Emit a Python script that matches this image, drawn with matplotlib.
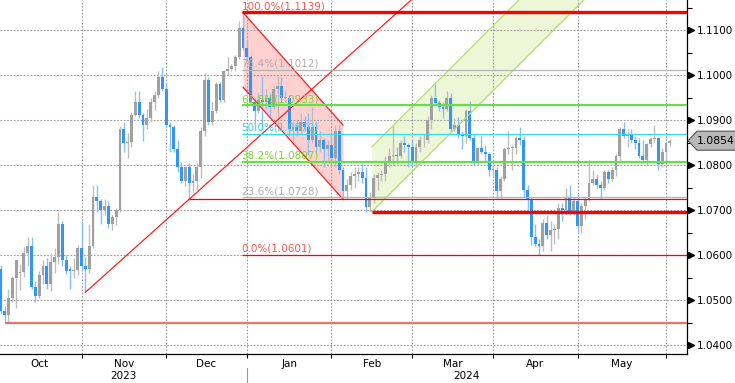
import matplotlib
matplotlib.use('Agg')
import matplotlib.pyplot as plt
import matplotlib.transforms as mtransforms
from matplotlib.patches import Polygon
from matplotlib.ticker import MultipleLocator, FixedLocator, NullFormatter
import numpy as np
import pandas as pd

# EURUSD daily candles (open, high, low, close), one list per month
oct_23 = [(1.0570, 1.0577, 1.0470, 1.0475), (1.0475, 1.0487, 1.0448, 1.0467),
          (1.0467, 1.0525, 1.0448, 1.0505), (1.0505, 1.0553, 1.0496, 1.0549),
          (1.0549, 1.0589, 1.0483, 1.0588), (1.0560, 1.0581, 1.0523, 1.0563),
          (1.0563, 1.0617, 1.0552, 1.0604), (1.0604, 1.0639, 1.0576, 1.0620),
          (1.0620, 1.0640, 1.0525, 1.0530), (1.0530, 1.0543, 1.0495, 1.0510),
          (1.0510, 1.0565, 1.0505, 1.0555), (1.0555, 1.0590, 1.0535, 1.0575),
          (1.0575, 1.0594, 1.0525, 1.0535), (1.0535, 1.0605, 1.0520, 1.0585),
          (1.0585, 1.0615, 1.0560, 1.0595), (1.0595, 1.0695, 1.0580, 1.0670),
          (1.0670, 1.0675, 1.0575, 1.0590), (1.0590, 1.0601, 1.0557, 1.0565),
          (1.0568, 1.0575, 1.0524, 1.0564), (1.0564, 1.0594, 1.0550, 1.0566),
          (1.0566, 1.0622, 1.0555, 1.0615), (1.0615, 1.0675, 1.0565, 1.0575)]
nov_23 = [(1.0575, 1.0596, 1.0517, 1.0568), (1.0568, 1.0670, 1.0560, 1.0620),
          (1.0620, 1.0756, 1.0615, 1.0730), (1.0730, 1.0755, 1.0695, 1.0720),
          (1.0720, 1.0725, 1.0668, 1.0700), (1.0700, 1.0725, 1.0690, 1.0710),
          (1.0710, 1.0720, 1.0660, 1.0668), (1.0668, 1.0690, 1.0656, 1.0685),
          (1.0685, 1.0705, 1.0667, 1.0700), (1.0700, 1.0887, 1.0695, 1.0880),
          (1.0880, 1.0895, 1.0828, 1.0850), (1.0850, 1.0872, 1.0815, 1.0852),
          (1.0852, 1.0918, 1.0840, 1.0912), (1.0912, 1.0965, 1.0910, 1.0940),
          (1.0940, 1.0965, 1.0905, 1.0912), (1.0912, 1.0915, 1.0853, 1.0888),
          (1.0888, 1.0925, 1.0880, 1.0905), (1.0905, 1.0950, 1.0895, 1.0940),
          (1.0940, 1.0965, 1.0922, 1.0955), (1.0955, 1.1010, 1.0950, 1.0995),
          (1.0995, 1.1017, 1.0965, 1.0970), (1.0970, 1.0985, 1.0885, 1.0888)]
dec_23 = [(1.0888, 1.0895, 1.0828, 1.0884), (1.0884, 1.0890, 1.0830, 1.0835),
          (1.0835, 1.0855, 1.0785, 1.0795), (1.0795, 1.0806, 1.0760, 1.0765),
          (1.0765, 1.0795, 1.0753, 1.0795), (1.0795, 1.0805, 1.0723, 1.0760),
          (1.0760, 1.0780, 1.0740, 1.0765), (1.0765, 1.0805, 1.0745, 1.0795),
          (1.0795, 1.0885, 1.0772, 1.0875), (1.0875, 1.1005, 1.0865, 1.0990),
          (1.0990, 1.0995, 1.0890, 1.0895), (1.0895, 1.0940, 1.0888, 1.0920),
          (1.0920, 1.0985, 1.0915, 1.0980), (1.0980, 1.0985, 1.0940, 1.0945),
          (1.0945, 1.1012, 1.0940, 1.1010), (1.1010, 1.1040, 1.1000, 1.1013),
          (1.1013, 1.1025, 1.1010, 1.1020), (1.1020, 1.1045, 1.1010, 1.1040),
          (1.1040, 1.1120, 1.1035, 1.1105), (1.1105, 1.1139, 1.1055, 1.1060),
          (1.1060, 1.1080, 1.1035, 1.1040)]
jan_24 = [(1.1040, 1.1045, 1.0937, 1.0940), (1.0940, 1.0950, 1.0877, 1.0920),
          (1.0920, 1.0960, 1.0915, 1.0945), (1.0945, 1.0998, 1.0877, 1.0940),
          (1.0940, 1.0970, 1.0925, 1.0950), (1.0950, 1.0960, 1.0910, 1.0930),
          (1.0930, 1.0975, 1.0925, 1.0970), (1.0970, 1.0998, 1.0875, 1.0975),
          (1.0975, 1.0995, 1.0945, 1.0950), (1.0950, 1.0965, 1.0940, 1.0950),
          (1.0950, 1.0955, 1.0865, 1.0880), (1.0880, 1.0895, 1.0845, 1.0885),
          (1.0885, 1.0900, 1.0865, 1.0875), (1.0875, 1.0915, 1.0870, 1.0895),
          (1.0895, 1.0910, 1.0875, 1.0885), (1.0885, 1.0915, 1.0822, 1.0855),
          (1.0855, 1.0930, 1.0850, 1.0885), (1.0885, 1.0895, 1.0825, 1.0840),
          (1.0840, 1.0875, 1.0830, 1.0855), (1.0855, 1.0860, 1.0795, 1.0835),
          (1.0835, 1.0855, 1.0805, 1.0845), (1.0845, 1.0870, 1.0795, 1.0815)]
feb_24 = [(1.0815, 1.0890, 1.0795, 1.0875), (1.0875, 1.0890, 1.0780, 1.0790),
          (1.0790, 1.0795, 1.0722, 1.0743), (1.0743, 1.0770, 1.0725, 1.0755),
          (1.0755, 1.0785, 1.0745, 1.0775), (1.0775, 1.0795, 1.0750, 1.0780),
          (1.0780, 1.0795, 1.0765, 1.0785), (1.0785, 1.0805, 1.0760, 1.0772),
          (1.0772, 1.0795, 1.0695, 1.0707), (1.0707, 1.0740, 1.0697, 1.0727),
          (1.0727, 1.0780, 1.0715, 1.0772), (1.0772, 1.0785, 1.0745, 1.0777),
          (1.0777, 1.0790, 1.0765, 1.0780), (1.0780, 1.0820, 1.0765, 1.0808),
          (1.0808, 1.0838, 1.0795, 1.0820), (1.0820, 1.0888, 1.0800, 1.0823),
          (1.0823, 1.0840, 1.0805, 1.0820), (1.0820, 1.0856, 1.0815, 1.0850),
          (1.0850, 1.0865, 1.0830, 1.0845), (1.0845, 1.0850, 1.0795, 1.0840),
          (1.0840, 1.0855, 1.0795, 1.0805)]
mar_24 = [(1.0805, 1.0850, 1.0795, 1.0840), (1.0840, 1.0865, 1.0830, 1.0855),
          (1.0855, 1.0870, 1.0840, 1.0855), (1.0855, 1.0910, 1.0850, 1.0900),
          (1.0900, 1.0955, 1.0880, 1.0950), (1.0950, 1.0981, 1.0935, 1.0938),
          (1.0938, 1.0945, 1.0920, 1.0928), (1.0928, 1.0940, 1.0905, 1.0925),
          (1.0925, 1.0965, 1.0920, 1.0950), (1.0950, 1.0960, 1.0875, 1.0880),
          (1.0880, 1.0905, 1.0875, 1.0890), (1.0890, 1.0907, 1.0860, 1.0870),
          (1.0870, 1.0875, 1.0835, 1.0865), (1.0865, 1.0925, 1.0850, 1.0920),
          (1.0920, 1.0942, 1.0855, 1.0860), (1.0860, 1.0870, 1.0800, 1.0810),
          (1.0810, 1.0840, 1.0800, 1.0838), (1.0838, 1.0865, 1.0825, 1.0830),
          (1.0830, 1.0845, 1.0810, 1.0825), (1.0825, 1.0830, 1.0775, 1.0790),
          (1.0790, 1.0800, 1.0775, 1.0790)]
apr_24 = [(1.0790, 1.0795, 1.0725, 1.0742), (1.0742, 1.0775, 1.0725, 1.0770),
          (1.0770, 1.0840, 1.0765, 1.0835), (1.0835, 1.0875, 1.0825, 1.0838),
          (1.0838, 1.0845, 1.0790, 1.0838), (1.0838, 1.0865, 1.0825, 1.0860),
          (1.0860, 1.0885, 1.0845, 1.0855), (1.0855, 1.0865, 1.0730, 1.0745),
          (1.0745, 1.0755, 1.0695, 1.0725), (1.0725, 1.0730, 1.0622, 1.0640),
          (1.0640, 1.0670, 1.0620, 1.0625), (1.0625, 1.0635, 1.0601, 1.0620),
          (1.0620, 1.0680, 1.0610, 1.0672), (1.0672, 1.0690, 1.0635, 1.0645),
          (1.0645, 1.0675, 1.0610, 1.0655), (1.0655, 1.0670, 1.0625, 1.0657),
          (1.0657, 1.0715, 1.0635, 1.0705), (1.0705, 1.0715, 1.0675, 1.0700),
          (1.0700, 1.0750, 1.0690, 1.0730), (1.0730, 1.0755, 1.0690, 1.0695),
          (1.0695, 1.0730, 1.0690, 1.0720), (1.0720, 1.0735, 1.0650, 1.0665)]
may_24 = [(1.0665, 1.0715, 1.0650, 1.0710), (1.0710, 1.0730, 1.0680, 1.0725),
          (1.0725, 1.0812, 1.0720, 1.0760), (1.0760, 1.0790, 1.0755, 1.0770),
          (1.0770, 1.0780, 1.0750, 1.0755), (1.0755, 1.0765, 1.0725, 1.0750),
          (1.0750, 1.0790, 1.0745, 1.0785), (1.0785, 1.0790, 1.0760, 1.0770),
          (1.0770, 1.0795, 1.0765, 1.0790), (1.0790, 1.0825, 1.0775, 1.0820),
          (1.0820, 1.0885, 1.0810, 1.0880), (1.0880, 1.0895, 1.0860, 1.0865),
          (1.0865, 1.0880, 1.0840, 1.0870), (1.0870, 1.0880, 1.0850, 1.0855),
          (1.0855, 1.0865, 1.0835, 1.0850), (1.0850, 1.0860, 1.0815, 1.0820),
          (1.0820, 1.0855, 1.0805, 1.0812), (1.0812, 1.0850, 1.0800, 1.0847),
          (1.0847, 1.0862, 1.0840, 1.0857), (1.0857, 1.0889, 1.0850, 1.0860),
          (1.0860, 1.0862, 1.0790, 1.0802), (1.0802, 1.0838, 1.0795, 1.0830),
          (1.0830, 1.0852, 1.0810, 1.0848)]
jun_24 = [(1.0848, 1.0858, 1.0843, 1.0854)]

# business days, no bar on New Year's day
dates = pd.bdate_range('2023-10-02', '2024-06-03')
dates = dates[dates != pd.Timestamp('2024-01-01')]

month_names = ['Oct', 'Nov', 'Dec', 'Jan', 'Feb', 'Mar', 'Apr', 'May']
year_names = ['2023', '2024']

# Fibonacci retracement: Dec 28 high -> Apr 16 low
fib_pcts = ['100.0%', '76.4%', '61.8%', '50.0%', '38.2%', '23.6%', '0.0%']
fib_prices = [1.1139, 1.1012, 1.0933, 1.0870, 1.0807, 1.0728, 1.0601]
fib_line_colors = ['#ff0000', '#b4b4b4', '#66e04a', '#38dcee', '#66e04a', '#b4b4b4', '#ff0000']
fib_text_colors = ['#f25a5a', '#b0b0b0', '#7ad62a', '#3ed4ea', '#7ad62a', '#b0b0b0', '#f25a5a']
fib_widths = [2.4, 0.9, 1.6, 0.9, 1.6, 0.9, 0.9]
fib_start = 63

# trend line through Nov 1 and Dec 8 lows
trend_x = [22, 49]
trend_y = [1.0517, 1.0724]

# falling channel after the Dec 28 high
fall_x = [63, 89]
fall_top = [1.1139, 1.0889]
fall_bot = [1.0973, 1.0724]

# rising channel from the mid-Feb low
rise_x = [96.5, 160]
rise_top = [1.0840, 1.1382]
rise_bot = [1.0696, 1.1238]

# horizontal support lines: price, start bar, width, color
support_prices = [1.0448, 1.0724, 1.0696]
support_starts = [1, 49, 96.5]
support_widths = [1.6, 0.9, 2.4]
support_colors = ['#f07070', '#ff0000', '#ff0000']

last_price = 1.0854

candles = oct_23 + nov_23 + dec_23 + jan_24 + feb_24 + mar_24 + apr_24 + may_24 + jun_24
opens = np.array([c[0] for c in candles])
highs = np.array([c[1] for c in candles])
lows = np.array([c[2] for c in candles])
closes = np.array([c[3] for c in candles])
x = np.arange(len(candles))

fig = plt.figure(figsize=(7.35, 3.83), dpi=100)
ax = fig.add_axes([0, 1 - 354 / 383, 687 / 735, 354 / 383])
xmin, xmax = -0.2, -0.2 + 687 / 3.845
ax.set_xlim(xmin, xmax)
ax.set_ylim(1.0380, 1.11667)

grid_kw = dict(color='#999999', lw=0.8, linestyle=(0, (1.5, 1.5)), zorder=1.5)
for lvl in np.arange(1.04, 1.1101, 0.01):
    ax.axhline(lvl, **grid_kw)

# month boundaries
firsts = [i for i in range(len(dates)) if i == 0 or dates[i].month != dates[i - 1].month]
grid_x = [f - 1.0 for f in firsts]
for gx in grid_x[1:]:
    ax.axvline(gx, **grid_kw)

# channels
ax.fill_between(fall_x, fall_bot, fall_top, color='#ffd0d0', lw=0, zorder=1)
ax.plot(fall_x, fall_top, color='#ff2020', lw=0.9, zorder=4)
ax.plot(fall_x, fall_bot, color='#ff2020', lw=0.9, zorder=4)
ax.fill_between(rise_x, rise_bot, rise_top, color='#eef6d8', lw=0, zorder=1)
ax.plot(rise_x, rise_top, color='#b4dc6e', lw=0.9, zorder=4)
ax.plot(rise_x, rise_bot, color='#b4dc6e', lw=0.9, zorder=4)

slope = (trend_y[1] - trend_y[0]) / (trend_x[1] - trend_x[0])
t_end = 115
ax.plot([trend_x[0], t_end], [trend_y[0], trend_y[0] + slope * (t_end - trend_x[0])],
        color='#ff2020', lw=0.9, zorder=4)

# candles
up = closes >= opens
body_lo = np.minimum(opens, closes)
body_h = np.maximum(np.abs(closes - opens), 0.0001)
wick_col = np.where(up, '#bdbdbd', '#86c0fa')
body_col = np.where(up, '#a0a0a0', '#3495f5')
ax.vlines(x, lows, highs, colors=wick_col, lw=1.0, zorder=3)
ax.bar(x, body_h, bottom=body_lo, width=0.74, color=body_col, lw=0, zorder=3.2)

# support lines
for p, s, w, c in zip(support_prices, support_starts, support_widths, support_colors):
    ax.hlines(p, s, xmax, colors=c, lw=w, zorder=4)

# fib levels
for pct, p, lc, tc, w in zip(fib_pcts, fib_prices, fib_line_colors, fib_text_colors, fib_widths):
    ax.hlines(p, fib_start - 0.3, xmax, colors=lc, lw=w, zorder=4)
    ax.annotate(f'{pct}({p:.4f})', (fib_start - 0.4, p), xytext=(0, 0.8),
                textcoords='offset points', ha='left', va='bottom',
                fontsize=7.5, color=tc, zorder=5)

# axes styling
for s in ['left', 'top']:
    ax.spines[s].set_visible(False)
for s in ['right', 'bottom']:
    ax.spines[s].set_color('black')
    ax.spines[s].set_linewidth(0.9)

ax.yaxis.tick_right()
ax.set_yticks(np.arange(1.04, 1.1101, 0.01))
ax.set_yticklabels([f'{v:.4f}' for v in np.arange(1.04, 1.1101, 0.01)])
ax.yaxis.set_minor_locator(MultipleLocator(0.005))
ax.tick_params(axis='y', which='major', length=0, pad=7.3, labelsize=7.5, colors='black')
ax.tick_params(axis='y', which='minor', length=3.6, width=0.8, color='black')

ax.xaxis.set_major_locator(FixedLocator(grid_x[1:]))
ax.xaxis.set_major_formatter(NullFormatter())
ax.tick_params(axis='x', which='major', length=3, width=0.8, direction='out', color='black')

tri_trans = ax.get_yaxis_transform() + mtransforms.ScaledTranslation(3.2 / 72, 0, fig.dpi_scale_trans)
ax.plot(np.ones(8), np.arange(1.04, 1.1101, 0.01), linestyle='none', marker='>',
        markersize=5, color='black', transform=tri_trans, clip_on=False)

# month / year labels
xt = ax.get_xaxis_transform()
for k, name in enumerate(month_names):
    cx = (grid_x[k] + grid_x[k + 1]) / 2
    ax.text(cx, -0.028, name, transform=xt, ha='center', va='center', fontsize=7.5)
jan_x = grid_x[3]
ax.text((xmin + jan_x) / 2, -0.063, year_names[0], transform=xt, ha='center', va='center', fontsize=7.5)
ax.text((jan_x + xmax) / 2, -0.063, year_names[1], transform=xt, ha='center', va='center', fontsize=7.5)
ax.plot([jan_x, jan_x], [-0.04, -0.09], transform=xt, color='#999999', lw=0.8, clip_on=False)

# last price tag
fig.canvas.draw()
yd = ax.transData.transform((0, last_price))[1]
tag = Polygon([(688, yd), (697, yd + 9.5), (736, yd + 9.5), (736, yd - 9.5), (697, yd - 9.5)],
              closed=True, facecolor='#b8b8b8', edgecolor='#555555', lw=0.8,
              transform=mtransforms.IdentityTransform())
fig.patches.append(tag)
fig.text(716, yd, f'{last_price:.4f}', transform=mtransforms.IdentityTransform(),
         ha='center', va='center', fontsize=7.8, color='black')

fig.savefig('out.png', dpi=100)
